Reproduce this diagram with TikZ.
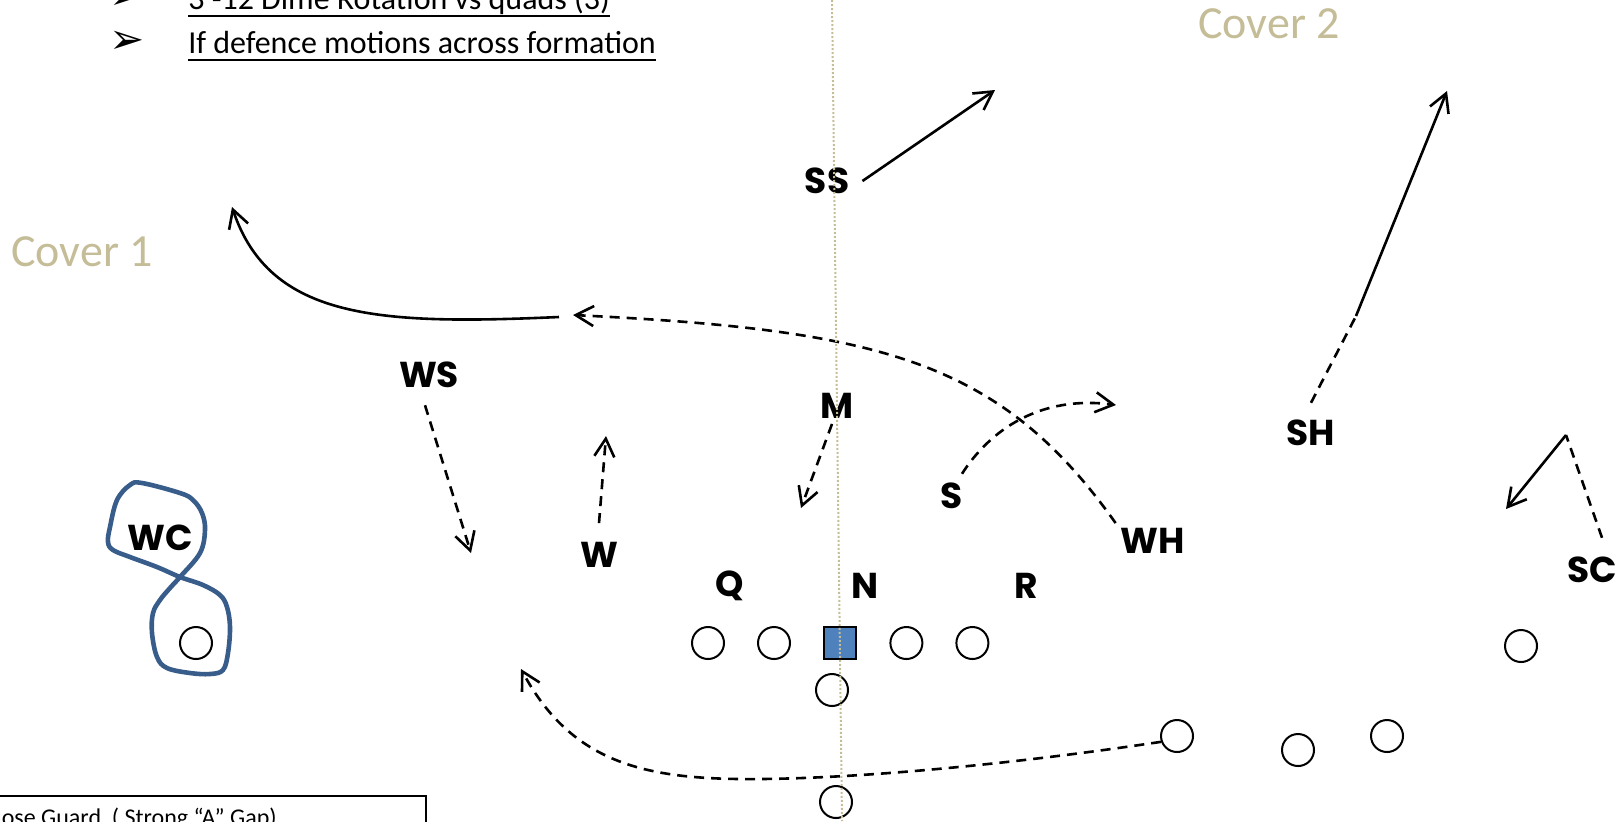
\documentclass[tikz,border=0pt]{standalone}
\usepackage{fontspec}
\setmainfont{Carlito}
\newfontfamily\playerfont{Poppins}
\newfontfamily\dingfont{DejaVu Sans}
\usetikzlibrary{arrows.meta,positioning}
\definecolor{fieldtan}{HTML}{C4BD97}
\definecolor{centerblue}{HTML}{4F81BD}
\definecolor{loopblue}{HTML}{385D8A}
\newcommand{\ultext}[1]{\setbox0\hbox{#1}\rlap{\rule[-4pt]{\wd0}{1pt}}\box0}

\begin{document}
\begin{tikzpicture}[x=0.5pt,y=-0.5pt,>={Straight Barb[length=9pt,width=10pt]},line width=1.3pt,
    node distance=16pt,
    player/.style={font=\playerfont\bfseries\fontsize{18}{18}\selectfont,inner sep=2pt},
    man/.style={circle,draw,line width=1pt,minimum size=16pt,inner sep=0pt},
    ball/.style={rectangle,draw,fill=centerblue,line width=1.2pt,minimum size=16pt,inner sep=0pt},
    motion/.style={dash pattern=on 5pt off 3.5pt},
    cover/.style={anchor=base west,inner sep=0pt,text=fieldtan,font=\fontsize{23}{23}\selectfont},
    note/.style={anchor=base west,inner sep=0pt,font=\fontsize{16}{16}\selectfont},
    bullet/.style={anchor=base,inner sep=0pt,font=\dingfont\fontsize{21}{21}\selectfont}]
  \useasboundingbox (0,0) rectangle (1620,821);
  \clip (0,0) rectangle (1620,821);

  % notes
  \node[note] (T1) at (187,9) {\ultext{3 -12 Dime Rotation vs quads (3)}};
  \node[note] (T2) at (187,53) {\ultext{If defence motions across formation}};
  \node[bullet] (B1) at (127,9) {➢};
  \node[bullet] (B2) at (127,53) {➢};
  \node[cover] (CV1) at (10,266) {Cover 1};
  \node[cover] (CV2) at (1197,38) {Cover 2};

  % offense
  \node[man] (LT) at (708,643) {};
  \node[man,right=of LT] (LG) {};
  \node[ball,right=of LG] (C) {};
  \node[man,right=of C] (RG) {};
  \node[man,right=of RG] (RT) {};
  \node[man] (QB) at (832,690) {};
  \node[man] (TB) at (836,802) {};
  \node[man] (H) at (1177,736) {};
  \node[man] (Y) at (1298,750) {};
  \node[man] (Z) at (1387,736) {};
  \node[man] (X) at (1521,646) {};
  \node[man] (WR) at (196,643) {};

  % defense
  \node[player] (SS) at (827,181) {SS};
  \node[player] (WS) at (429,375) {WS};
  \node[player] (M) at (837,406) {M};
  \node[player] (SH) at (1311,433) {SH};
  \node[player] (S) at (952,496) {S};
  \node[player] (WC) at (160,538) {WC};
  \node[player] (W) at (599,555) {W};
  \node[player] (WH) at (1153,541) {WH};
  \node[player] (Q) at (730,586) {Q};
  \node[player] (N) at (865,586) {N};
  \node[player] (R) at (1026,586) {R};
  \node[player] (SC) at (1592,570) {SC};

  \coordinate (SSto) at (995,90);
  \coordinate (WSto) at (471,553);
  \coordinate (Wto) at (606,436);
  \coordinate (Mto) at (801,508);
  \coordinate (Sto) at (1116,405);
  \coordinate (WHto) at (573,315);
  \coordinate (SHbreak) at (1356,316);
  \coordinate (SHto) at (1447,91);
  \coordinate (SCbreak) at (1566,435);
  \coordinate (SCto) at (1506,509);
  \coordinate (C1from) at (559,317);
  \coordinate (C1to) at (232,207);
  \coordinate (TBlow) at (740,779);
  \coordinate (TBto) at (521,669);

  \draw[->] ([xshift=4pt]SS.east) -- (SSto);
  \draw[->,motion] ([shift={(-2pt,-6pt)}]WS.south) -- (WSto);
  \draw[->,motion] ([yshift=7pt]W.north) -- (Wto);
  \draw[->,motion] ([xshift=-2.5pt]M.south) -- (Mto);
  \draw[->,motion] ([shift={(5pt,2pt)}]S.north) .. controls (990,430) and (1040,395) .. (Sto);
  \draw[->,motion] (WH.north west) .. controls (1000,360) and (880,330) .. (WHto);
  \draw[motion] ([yshift=6pt]SH.north) -- (SHbreak);
  \draw[->] (SHbreak) -- (SHto);
  \draw[motion] ([shift={(5pt,7pt)}]SC.north) -- (SCbreak);
  \draw[->] (SCbreak) -- (SCto);
  \draw[->] (C1from) .. controls (380,325) and (270,320) .. (C1to);
  \draw[->,motion] (H.200) .. controls (1000,766) and (840,780) .. (TBlow)
    .. controls (640,778) and (570,760) .. (TBto);

  % WC loop
  \draw[loopblue,line width=2.3pt] plot[smooth cycle,tension=0.6] coordinates {(180,577) (200,553) (205,530)
    (202,513) (193,500) (180,493) (142,483) (130,485) (117,500) (110,527) (108,542) (113,550) (130,557)
    (157,567) (180,577) (203,585) (220,595) (227,607) (230,627) (228,653) (223,670) (210,674) (190,673)
    (167,668) (157,657) (152,633) (153,613) (160,600) (170,588)};

  % nose guard box
  \node[anchor=base west,inner sep=0pt,font=\fontsize{12}{12}\selectfont] (NG) at (-15,825) {Nose Guard~ ( Strong “A” Gap)};
  \draw[line width=1pt] (-10,796) rectangle (426,870);

  % midline
  \coordinate (MLtop) at (832,0);
  \coordinate (MLbot) at (842,821);
  \draw[fieldtan,line width=1pt,dash pattern=on 1pt off 1pt] (MLtop) -- (MLbot);
\end{tikzpicture}
\end{document}
